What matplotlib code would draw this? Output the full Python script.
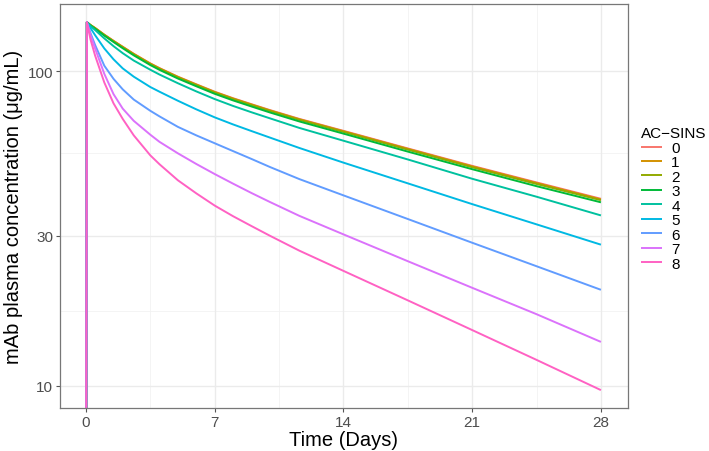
import matplotlib
matplotlib.use("Agg")
import matplotlib.pyplot as plt
import numpy as np

plt.rcParams['font.family'] = ['Liberation Sans', 'DejaVu Sans']

# time points (days)
days = [0, 0.05, 0.25, 0.5, 1, 1.5, 2, 2.6, 3.5, 4, 5, 6, 7, 8, 9, 10, 11.6, 14, 17.5, 21, 24.5, 28]

# mAb plasma concentration (ug/mL) for each AC-SINS score
conc_0 = [1, 143, 140, 137, 130.5, 124.8, 119.5, 113.5, 105.8, 102.2, 96, 90.8, 86, 82, 78.5, 75.2, 70.5, 64.6, 56.8, 50.0, 44.3, 39.3]
conc_1 = [1, 143, 140, 137, 130.4, 124.6, 119.3, 113.3, 105.6, 102, 95.8, 90.6, 85.8, 81.8, 78.3, 75, 70.3, 64.4, 56.6, 49.8, 44.1, 39.1]
conc_2 = [1, 143, 140, 136.8, 130.2, 124.4, 119, 113, 105.3, 101.7, 95.5, 90.3, 85.5, 81.5, 78, 74.7, 70, 64.1, 56.3, 49.5, 43.8, 38.9]
conc_3 = [1, 143, 139.7, 136.3, 129.6, 123.7, 118.2, 112.2, 104.5, 100.9, 94.7, 89.5, 84.7, 80.7, 77.2, 73.9, 69.2, 63.3, 55.5, 48.8, 43.1, 38.3]
conc_4 = [1, 143, 139, 135, 127, 120, 114, 108, 101, 97.5, 91.5, 86.2, 81.5, 77.5, 74, 70.8, 66, 60.1, 52.4, 45.5, 39.9, 34.8]
conc_5 = [1, 143, 137, 130, 118, 109, 102, 96, 89, 86, 80.5, 75.6, 71.3, 67.7, 64.5, 61.5, 57, 51.2, 44, 37.8, 32.6, 28.1]
conc_6 = [1, 143, 132, 121, 104, 94.5, 87.5, 81.2, 74.8, 71.8, 66.5, 62.5, 59, 55.7, 52.6, 49.6, 45.4, 40.3, 33.9, 28.5, 24.0, 20.2]
conc_7 = [1, 143, 130, 118, 98, 84.5, 76, 69.5, 62.8, 59.6, 54.8, 50.7, 47.1, 43.9, 41.0, 38.4, 34.7, 30.3, 24.9, 20.5, 16.9, 13.8]
conc_8 = [1, 143, 126, 112, 92, 79, 70.5, 62.5, 54, 50.6, 45, 40.9, 37.4, 34.6, 32.2, 30.0, 26.9, 23.2, 18.7, 15.05, 12.1, 9.7]

series = [conc_0, conc_1, conc_2, conc_3, conc_4, conc_5, conc_6, conc_7, conc_8]
labels = ['0', '1', '2', '3', '4', '5', '6', '7', '8']
colors = ['#F8766D', '#D39200', '#93AA00', '#00BA38', '#00C19F',
          '#00B9E3', '#619CFF', '#DB72FB', '#FF61C3']

y_ticks = [10, 30, 100]
x_ticks = [0, 7, 14, 21, 28]

fig = plt.figure(figsize=(7.09, 4.52), dpi=100)
ax = fig.add_axes([0.0846, 0.0951, 0.8011, 0.8938])

for vals, lab, col in zip(series, labels, colors):
    ax.plot(days, vals, color=col, lw=1.4, label=lab, solid_capstyle='butt')

ax.set_yscale('log')
ax.set_xlim(-1.41, 29.47)
ax.set_ylim(8.51, 163.3)

# grid like theme_bw
for v in [3.5, 10.5, 17.5, 24.5]:
    ax.axvline(v, color='#f2f2f2', lw=0.6, zorder=0)
for v in [10 ** 1.2386, 10 ** 1.7386]:
    ax.axhline(v, color='#f2f2f2', lw=0.6, zorder=0)
for v in x_ticks:
    ax.axvline(v, color='#ebebeb', lw=1.0, zorder=0)
for v in y_ticks:
    ax.axhline(v, color='#ebebeb', lw=1.0, zorder=0)

ax.set_yticks(y_ticks)
ax.set_yticklabels([str(t) for t in y_ticks])
ax.yaxis.set_minor_locator(matplotlib.ticker.NullLocator())
ax.set_xticks(x_ticks)
ax.set_xticklabels([str(t) for t in x_ticks])
ax.tick_params(axis='both', length=3, width=0.8, color='#555555',
               labelcolor='#4d4d4d', labelsize=11, pad=2)

for sp in ax.spines.values():
    sp.set_color('#777777')
    sp.set_linewidth(0.9)

ax.set_xlabel('Time (Days)', fontsize=14.5, labelpad=1)
ax.set_ylabel('mAb plasma concentration (μg/mL)', fontsize=14.5, labelpad=3)

leg = ax.legend(title='AC\u2212SINS', loc='upper left', bbox_to_anchor=(0.893, 0.735),
                bbox_transform=fig.transFigure, frameon=False, fontsize=11,
                title_fontsize=11, handlelength=1.4, handletextpad=0.6,
                labelspacing=0.03, borderpad=0)
leg._legend_box.align = 'left'

fig.savefig('out.png', dpi=100)
